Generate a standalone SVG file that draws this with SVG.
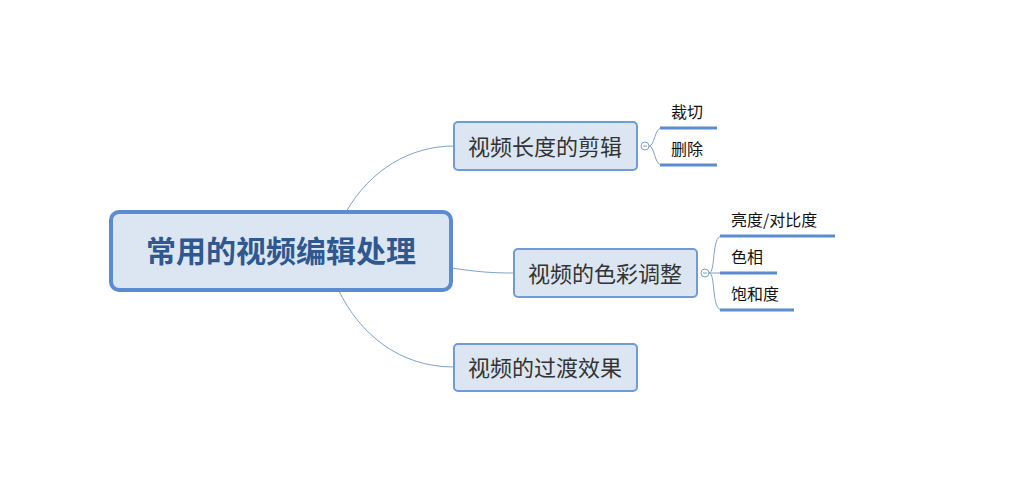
<svg xmlns="http://www.w3.org/2000/svg" width="1009" height="499" viewBox="0 0 1009 499">
<style>
.conn{fill:none;stroke:#7fa0cc;stroke-width:1}
.brace{fill:none;stroke:#7fa0cc;stroke-width:1}
.ul{stroke:#5b8bd0;stroke-width:3}
.sub{fill:#dce6f2;stroke:#6f9bd6;stroke-width:2}
.t{font-family:"Noto Sans CJK SC","Microsoft YaHei",sans-serif;}
.st{font-size:22px;fill:#333333;text-anchor:middle}
.leaf{font-size:16px;fill:#111111}
.tog{fill:#ffffff;stroke:#7fa0cc;stroke-width:1}
</style>
<rect width="1009" height="499" fill="#ffffff"/>
<g id="connectors">
<path class="conn" d="M346,212 C370,170 410,146 454,146"/>
<path class="conn" d="M451,268 C480,272 490,273 514,273"/>
<path class="conn" d="M338,289 C360,335 400,367 454,367"/>
<path class="brace" d="M649,146 C655,146 654,128 662,128"/>
<path class="brace" d="M649,146 C655,146 654,165 662,165"/>
<path class="brace" d="M709,273 C716,273 711,236 722,236"/>
<path class="brace" d="M709,273 L722,273"/>
<path class="brace" d="M709,273 C716,273 711,310 722,310"/>
<line class="ul" x1="660" y1="128" x2="717" y2="128"/>
<line class="ul" x1="660" y1="165" x2="717" y2="165"/>
<line class="ul" x1="720" y1="236" x2="835" y2="236"/>
<line class="ul" x1="720" y1="273" x2="777" y2="273"/>
<line class="ul" x1="720" y1="310" x2="794" y2="310"/>
<circle class="tog" cx="645" cy="146" r="4"/>
<line x1="643" y1="146" x2="647" y2="146" stroke="#7fa0cc" stroke-width="1"/>
<circle class="tog" cx="705" cy="273" r="4"/>
<line x1="703" y1="273" x2="707" y2="273" stroke="#7fa0cc" stroke-width="1"/>
</g>
<g id="root">
<rect x="111" y="212" width="340" height="78" rx="8" fill="#dce6f2" stroke="#5b8bd0" stroke-width="4"/>
<text class="t" x="281" y="262" font-size="30" font-weight="bold" fill="#2f5891" text-anchor="middle">常用的视频编辑处理</text>
</g>
<g id="n1">
<rect class="sub" x="454" y="122" width="183" height="48" rx="4"/>
<text class="t st" x="545" y="155">视频长度的剪辑</text>
</g>
<g id="n2">
<rect class="sub" x="514" y="249" width="183" height="48" rx="4"/>
<text class="t st" x="605" y="282">视频的色彩调整</text>
</g>
<g id="n3">
<rect class="sub" x="454" y="344" width="183" height="47" rx="4"/>
<text class="t st" x="545" y="376">视频的过渡效果</text>
</g>
<g id="leaf1"><text class="t leaf" x="671" y="118">裁切</text></g>
<g id="leaf2"><text class="t leaf" x="671" y="155">删除</text></g>
<g id="leaf3"><text class="t leaf" x="731" y="226">亮度/对比度</text></g>
<g id="leaf4"><text class="t leaf" x="731" y="263">色相</text></g>
<g id="leaf5"><text class="t leaf" x="731" y="300">饱和度</text></g>
</svg>
